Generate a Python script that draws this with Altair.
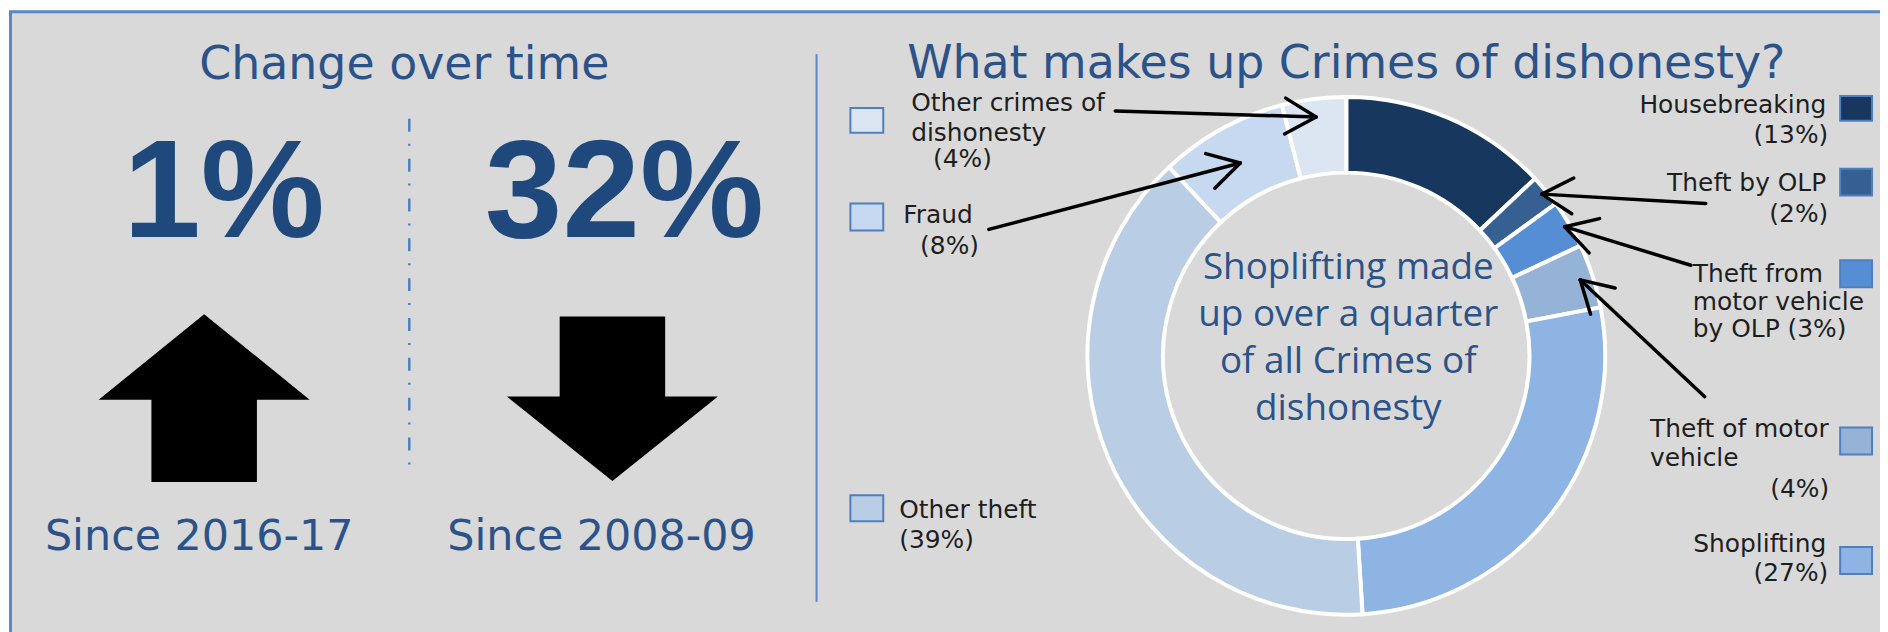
import altair as alt
import pandas as pd
import numpy as np

# ---------------- data ----------------
categories = ["Housebreaking", "Theft by OLP", "Theft from motor vehicle by OLP",
              "Theft of motor vehicle", "Shoplifting", "Other theft", "Fraud",
              "Other crimes of dishonesty"]
shares = [13, 2, 3, 4, 27, 39, 8, 4]
slice_colors = ["#17375e", "#376092", "#558ed5", "#95b3d7", "#8db4e2",
                "#b9cde5", "#c6d9f1", "#dce6f2"]

changes = ["1%", "32%"]
directions = ["up", "down"]
periods = ["Since 2016-17", "Since 2008-09"]

left_title = "Change over time"
right_title = "What makes up Crimes of dishonesty?"
center_lines = ["Shoplifting made", "up over a quarter", "of all Crimes of", "dishonesty"]

label_lines = {
    "Housebreaking": ["Housebreaking", "{p}"],
    "Theft by OLP": ["Theft by OLP", "{p}"],
    "Theft from motor vehicle by OLP": ["Theft from", "motor vehicle", "by OLP {p}"],
    "Theft of motor vehicle": ["Theft of motor", "vehicle", "{p}"],
    "Shoplifting": ["Shoplifting", "{p}"],
    "Other theft": ["Other theft", "{p}"],
    "Fraud": ["Fraud", "{p}"],
    "Other crimes of dishonesty": ["Other crimes of", "dishonesty", "{p}"],
}

# ---------------- layout (page pixels) ----------------
OFF = 8
W, H = 1880, 624
CX, CY = 1352, 356
R_OUT, R_IN = 260, 184

label_pos = {
    "Housebreaking": [(1834, 112, "right"), (1836, 142, "right")],
    "Theft by OLP": [(1834, 190, "right"), (1836, 222, "right")],
    "Theft from motor vehicle by OLP": [(1700, 282, "left"), (1700, 310, "left"), (1700, 337, "left")],
    "Theft of motor vehicle": [(1657, 438, "left"), (1657, 467, "left"), (1837, 498, "right")],
    "Shoplifting": [(1834, 553, "right"), (1836, 582, "right")],
    "Other theft": [(903, 519, "left"), (903, 549, "left")],
    "Fraud": [(907, 223, "left"), (924, 254, "left")],
    "Other crimes of dishonesty": [(915, 110, "left"), (915, 140, "left"), (937, 166, "left")],
}
square_pos = {
    "Housebreaking": (1848, 95, 1880, 120),
    "Theft by OLP": (1848, 168, 1880, 195),
    "Theft from motor vehicle by OLP": (1848, 260, 1880, 287),
    "Theft of motor vehicle": (1848, 428, 1880, 455),
    "Shoplifting": (1848, 548, 1880, 575),
    "Other theft": (854, 496, 887, 522),
    "Fraud": (854, 203, 887, 230),
    "Other crimes of dishonesty": (854, 107, 887, 132),
}
arrow_tail = {
    "Other crimes of dishonesty": (1120, 110),
    "Fraud": (993, 229),
    "Theft by OLP": (1713, 203),
    "Theft from motor vehicle by OLP": (1698, 265),
    "Theft of motor vehicle": (1712, 397),
}
arrow_tip_r = {
    "Other crimes of dishonesty": 0.93,
    "Fraud": 0.85,
    "Theft by OLP": 0.98,
    "Theft from motor vehicle by OLP": 0.98,
    "Theft of motor vehicle": 0.95,
}
HEAD = 36
change_x = [225, 627]
arrow_x = [205, 615]
period_x = [200, 604]

TITLE_BLUE = "#2b5389"
NUM_BLUE = "#1f497d"
LABEL = "#1e1e1e"


def p(v):
    return v - OFF


def X(f):
    return alt.X(f"{f}:Q", scale=None, axis=None)


def Y(f):
    return alt.Y(f"{f}:Q", scale=None, axis=None)


one = pd.DataFrame({"a": [0]})
color_scale = alt.Scale(domain=categories, range=slice_colors)

# background panel
bg = alt.Chart(one).mark_rect(fill="#d9d9d9", stroke="#5b87c5", strokeWidth=3).encode(
    x=alt.value(p(10.5)), x2=alt.value(W + 20), y=alt.value(p(10.5)), y2=alt.value(H + 20))

panel_div = alt.Chart(one).mark_rule(color="#5b87c5", strokeWidth=2).encode(
    x=alt.value(p(820)), y=alt.value(p(53)), y2=alt.value(p(603)))

dashdot = alt.Chart(one).mark_rule(color="#4f81bd", strokeWidth=2.5, strokeDash=[13, 12, 2, 13]).encode(
    x=alt.value(p(411)), y=alt.value(p(118)), y2=alt.value(p(470)))

# titles
titles_df = pd.DataFrame({"t": [left_title, right_title], "x": [p(406), p(1352)], "y": [p(78), p(77)],
                          "s": [46, 46]})
titles = alt.Chart(titles_df).mark_text(font="DejaVu Sans", color=TITLE_BLUE, align="center",
                                        baseline="alphabetic").encode(
    x=X("x"), y=Y("y"), text="t:N", size=alt.Size("s:Q", scale=None, legend=None))

# big numbers
num_df = pd.DataFrame({"t": changes, "x": [p(v) for v in change_x], "y": [p(237)] * 2})
nums = alt.Chart(num_df).mark_text(font="Liberation Sans", fontWeight="bold", fontSize=140,
                                   color=NUM_BLUE, align="center", baseline="alphabetic").encode(
    x=X("x"), y=Y("y"), text="t:N")

# direction arrows
up_path = "M0,-0.795L1,0.014L0.5,0.014L0.5,0.795L-0.5,0.795L-0.5,0.014L-1,0.014Z"
down_path = "M-0.5,-0.78L0.5,-0.78L0.5,-0.02L1,-0.02L0,0.78L-1,-0.02L-0.5,-0.02Z"
dir_df = pd.DataFrame({"d": directions, "x": [p(v) for v in arrow_x], "y": [p(398.5), p(399)]})
dirs = alt.Chart(dir_df).mark_point(filled=True, opacity=1, color="black", strokeWidth=0).encode(
    x=X("x"), y=Y("y"),
    shape=alt.Shape("d:N", scale=alt.Scale(domain=["up", "down"], range=[up_path, down_path]), legend=None),
    size=alt.value(44900))

per_df = pd.DataFrame({"t": periods, "x": [p(v) for v in period_x], "y": [p(551)] * 2})
pers = alt.Chart(per_df).mark_text(font="DejaVu Sans", fontSize=43, color=TITLE_BLUE, align="center",
                                   baseline="alphabetic").encode(x=X("x"), y=Y("y"), text="t:N")

# donut
donut_df = pd.DataFrame({"cat": categories, "share": shares, "idx": range(len(categories))})
donut = alt.Chart(donut_df).mark_arc(x=p(CX), y=p(CY), outerRadius=R_OUT, innerRadius=R_IN,
                                     stroke="white", strokeWidth=4).encode(
    theta=alt.Theta("share:Q", stack=True),
    color=alt.Color("cat:N", scale=color_scale, legend=None),
    order=alt.Order("idx:Q"))

center_df = pd.DataFrame({"t": center_lines, "x": [p(1354)] * 4,
                          "y": [p(v) for v in (279, 326, 373, 420)]})
center = alt.Chart(center_df).mark_text(font="Open Sans", fontSize=37, color=TITLE_BLUE, align="center",
                                        baseline="alphabetic").encode(x=X("x"), y=Y("y"), text="t:N")

# legend squares
sq_rows = []
for c in categories:
    x0, y0, x1, y1 = square_pos[c]
    sq_rows.append({"cat": c, "x": p(x0), "x2": p(x1), "y": p(y0), "y2": p(y1)})
squares = alt.Chart(pd.DataFrame(sq_rows)).mark_rect(stroke="#4f7fbf", strokeWidth=2).encode(
    x=X("x"), x2="x2:Q", y=Y("y"), y2="y2:Q",
    color=alt.Color("cat:N", scale=color_scale, legend=None))

# labels
lab_rows = []
for c, s in zip(categories, shares):
    for line, (lx, ly, al) in zip(label_lines[c], label_pos[c]):
        lab_rows.append({"t": line.replace("{p}", f"({s}%)"), "x": p(lx), "y": p(ly), "al": al})
lab_df = pd.DataFrame(lab_rows)
labels_l = alt.Chart(lab_df[lab_df.al == "left"]).mark_text(
    font="DejaVu Sans", fontSize=25, color=LABEL, align="left", baseline="alphabetic").encode(
    x=X("x"), y=Y("y"), text="t:N")
labels_r = alt.Chart(lab_df[lab_df.al == "right"]).mark_text(
    font="DejaVu Sans", fontSize=25, color=LABEL, align="right", baseline="alphabetic").encode(
    x=X("x"), y=Y("y"), text="t:N")

# pointer arrows (tips placed on slice mid-angles)
cum = np.cumsum([0] + shares)
total = cum[-1]
mid = {c: (cum[i] + shares[i] / 2) / total * 2 * np.pi for i, c in enumerate(categories)}
segs = []
for c, (sx, sy) in arrow_tail.items():
    a = mid[c]
    r = arrow_tip_r[c] * R_OUT
    tx, ty = CX + r * np.sin(a), CY - r * np.cos(a)
    segs.append((sx, sy, tx, ty))
    dx, dy = tx - sx, ty - sy
    L = np.hypot(dx, dy)
    ux, uy = dx / L, dy / L
    for sgn in (1, -1):
        ang = np.radians(30) * sgn
        rx = ux * np.cos(ang) - uy * np.sin(ang)
        ry = ux * np.sin(ang) + uy * np.cos(ang)
        segs.append((tx, ty, tx - HEAD * rx, ty - HEAD * ry))
seg_df = pd.DataFrame([{"x": p(a), "y": p(b), "x2": p(c2), "y2": p(d)} for a, b, c2, d in segs])
pointers = alt.Chart(seg_df).mark_rule(color="black", strokeWidth=3.5, strokeCap="round").encode(
    x=X("x"), y=Y("y"), x2="x2:Q", y2="y2:Q")

chart = alt.layer(bg, panel_div, dashdot, titles, nums, dirs, pers, donut, center, squares,
                  labels_l, labels_r, pointers).properties(
    width=W, height=H, padding=0, autosize=alt.AutoSizeParams(type="none"),
    background="white"
).configure_view(stroke=None)

chart.save("out.html", embed_options={"renderer": "svg", "actions": False})
